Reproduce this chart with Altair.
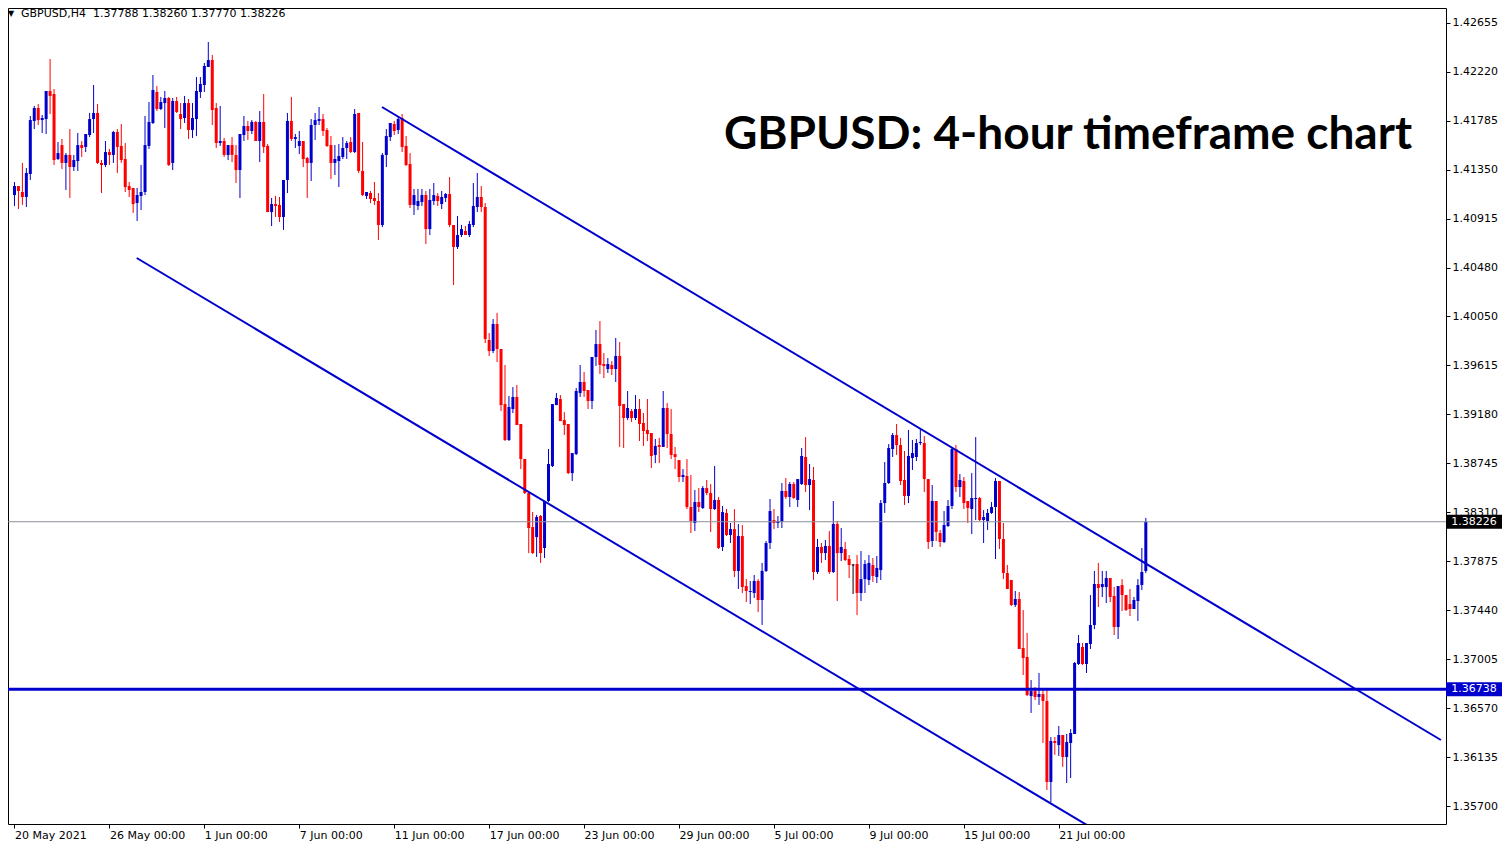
import altair as alt
import pandas as pd

# ---------------- data ----------------
opens = [
1.41127,1.41207,1.41154,1.41110,1.41314,1.41785,1.41900,1.41793,1.41802,1.42051,
1.42024,1.41447,1.41571,1.41412,1.41483,1.41376,1.41429,1.41571,1.41554,1.41660,
1.41802,1.41856,1.41412,1.41394,1.41509,1.41483,1.41687,1.41563,1.41447,1.41207,
1.41190,1.41056,1.41119,1.41154,1.41563,1.41767,1.42042,1.41891,1.41944,1.41989,
1.41412,1.41962,1.41847,1.41811,1.41944,1.41705,1.41802,1.42042,1.42104,1.42264,
1.42326,1.41900,1.41589,1.41607,1.41483,1.41571,1.41483,1.41349,1.41660,1.41740,
1.41696,1.41776,1.41607,1.41776,1.41563,1.40976,1.41047,1.41039,1.40932,1.41261,
1.41785,1.41625,1.41563,1.41607,1.41456,1.41412,1.41749,1.41785,1.41802,1.41705,
1.41571,1.41412,1.41429,1.41465,1.41545,1.41598,1.41509,1.41856,1.41341,1.41119,
1.41145,1.41101,1.41074,1.40861,1.41483,1.41642,1.41758,1.41705,1.41811,1.41563,
1.41403,1.41039,1.41030,1.41065,1.41127,1.40825,1.41074,1.41119,1.41047,1.41101,
1.41136,1.40861,1.40666,1.40772,1.40808,1.40772,1.40861,1.41021,1.41110,1.41021,
1.39840,1.39742,1.39982,1.39760,1.39271,1.38952,1.39227,1.39334,1.39094,1.38783,
1.38481,1.38179,1.38090,1.38277,1.37993,1.38410,1.38721,1.39262,1.39316,1.39129,
1.39094,1.38658,1.38827,1.39369,1.39467,1.39396,1.39298,1.39689,1.39804,1.39627,
1.39582,1.39618,1.39582,1.39698,1.39271,1.39147,1.39209,1.39147,1.39227,1.39103,
1.39041,1.39014,1.38819,1.38907,1.38890,1.39236,1.39005,1.38827,1.38774,1.38623,
1.38632,1.38357,1.38215,1.38401,1.38348,1.38526,1.38481,1.38339,1.38419,1.38002,
1.38304,1.38108,1.38161,1.37789,1.38099,1.37655,1.37602,1.37593,1.37700,1.37531,
1.37789,1.38037,1.38241,1.38215,1.38224,1.38499,1.38446,1.38561,1.38419,1.38561,
1.38801,1.38552,1.38597,1.37780,1.38002,1.37948,1.38011,1.37780,1.38206,1.37948,
1.37984,1.37895,1.37842,1.37851,1.37593,1.37717,1.37709,1.37842,1.37735,1.37797,
1.38392,1.38570,1.38872,1.38996,1.38907,1.38597,1.38455,1.38792,1.38801,1.38925,
1.38925,1.38605,1.38055,1.38410,1.38126,1.38046,1.38188,1.38366,1.38872,1.38534,
1.38588,1.38410,1.38339,1.38428,1.38437,1.38241,1.38233,1.38304,1.38357,1.38588,
1.38073,1.37771,1.37709,1.37487,1.37540,1.37105,1.37025,1.36678,1.36722,1.36670,
1.36696,1.36634,1.35915,1.36279,1.36243,1.36332,1.36137,1.36261,1.36341,1.36963,
1.37114,1.36963,1.37140,1.37309,1.37673,1.37646,1.37646,1.37726,1.37567,1.37291,
1.37664,1.37575,1.37495,1.37451,1.37522,1.37664,1.37788]

highs = [
1.41243,1.41207,1.41412,1.41367,1.41829,1.41918,1.41935,1.41838,1.42051,1.42335,
1.42069,1.41598,1.41625,1.41500,1.41713,1.41483,1.41678,1.41607,1.41669,1.41856,
1.42104,1.41935,1.41438,1.41607,1.41536,1.41696,1.41713,1.41758,1.41589,1.41243,
1.41190,1.41190,1.41394,1.41829,1.41953,1.42193,1.42095,1.41998,1.42051,1.41998,
1.41989,1.41998,1.41944,1.42007,1.41980,1.41944,1.42175,1.42175,1.42300,1.42486,
1.42371,1.41944,1.41918,1.41634,1.41571,1.41642,1.41571,1.41669,1.41829,1.41785,
1.41793,1.41785,1.41873,1.42024,1.41580,1.41101,1.41119,1.41110,1.41261,1.41856,
1.41998,1.41669,1.41696,1.41607,1.41465,1.41802,1.41856,1.41909,1.41847,1.41722,
1.41651,1.41571,1.41580,1.41642,1.41607,1.41642,1.41891,1.41856,1.41598,1.41154,
1.41163,1.41243,1.41145,1.41500,1.41713,1.41767,1.41785,1.41820,1.41847,1.41651,
1.41500,1.41181,1.41181,1.41181,1.41163,1.41181,1.41234,1.41145,1.41163,1.41145,
1.41287,1.40861,1.40941,1.40861,1.40852,1.40897,1.41234,1.41323,1.41207,1.41056,
1.39902,1.40026,1.40080,1.39760,1.39618,1.39343,1.39422,1.39440,1.39094,1.38783,
1.38481,1.38312,1.38286,1.38286,1.38410,1.38872,1.39271,1.39369,1.39351,1.39200,
1.39094,1.38836,1.39413,1.39618,1.39556,1.39396,1.39689,1.39929,1.40008,1.39724,
1.39680,1.39653,1.39858,1.39822,1.39271,1.39387,1.39227,1.39351,1.39316,1.39191,
1.39316,1.39014,1.38961,1.38970,1.39387,1.39280,1.39227,1.38890,1.38774,1.38694,
1.38783,1.38641,1.38508,1.38526,1.38543,1.38597,1.38561,1.38721,1.38446,1.38366,
1.38339,1.38215,1.38339,1.38206,1.38197,1.37717,1.37700,1.37753,1.37717,1.37860,
1.38055,1.38428,1.38339,1.38277,1.38570,1.38614,1.38579,1.38579,1.38605,1.38881,
1.38978,1.38739,1.38712,1.38073,1.38037,1.38064,1.38144,1.38410,1.38233,1.38170,
1.38046,1.37931,1.37851,1.37931,1.37966,1.37886,1.37931,1.37904,1.37922,1.38419,
1.38756,1.38916,1.39014,1.39094,1.38970,1.38854,1.39041,1.38952,1.38961,1.39049,
1.38987,1.38605,1.38552,1.38410,1.38153,1.38321,1.38419,1.38881,1.38907,1.38650,
1.38623,1.38410,1.38658,1.38978,1.38446,1.38330,1.38339,1.38401,1.38614,1.38588,
1.38215,1.37842,1.37709,1.37611,1.37602,1.37442,1.37238,1.36821,1.36758,1.36883,
1.36750,1.36750,1.36314,1.36314,1.36412,1.36332,1.36341,1.36385,1.36980,1.37220,
1.37149,1.37149,1.37575,1.37789,1.37860,1.37789,1.37789,1.37726,1.37646,1.37655,
1.37717,1.37575,1.37629,1.37558,1.37717,1.37993,1.38260]

lows = [
1.41030,1.41003,1.41039,1.41021,1.41261,1.41713,1.41749,1.41678,1.41669,1.41847,
1.41394,1.41438,1.41358,1.41172,1.41101,1.41341,1.41341,1.41465,1.41509,1.41642,
1.41678,1.41403,1.41145,1.41376,1.41394,1.41412,1.41323,1.41412,1.41154,1.41110,
1.40968,1.40897,1.40994,1.41127,1.41536,1.41758,1.41873,1.41882,1.41722,1.41385,
1.41349,1.41856,1.41713,1.41767,1.41625,1.41634,1.41651,1.41989,1.42042,1.42264,
1.41749,1.41545,1.41563,1.41465,1.41438,1.41420,1.41234,1.41101,1.41607,1.41616,
1.41669,1.41607,1.41420,1.41500,1.40976,1.40852,1.40932,1.40888,1.40817,1.41145,
1.41607,1.41545,1.41491,1.41376,1.41101,1.41252,1.41616,1.41749,1.41651,1.41554,
1.41269,1.41305,1.41198,1.41447,1.41447,1.41500,1.41500,1.41323,1.41119,1.41092,
1.41056,1.41039,1.40728,1.40843,1.41376,1.41607,1.41660,1.41669,1.41509,1.41385,
1.41012,1.40950,1.40994,1.41030,1.40692,1.40772,1.41039,1.41030,1.41003,1.41065,
1.40843,1.40328,1.40648,1.40754,1.40772,1.40754,1.40843,1.40976,1.40976,1.39813,
1.39698,1.39724,1.39644,1.39209,1.38943,1.38943,1.39191,1.39085,1.38694,1.38472,
1.37948,1.37939,1.37913,1.37860,1.37904,1.38401,1.38712,1.39262,1.39120,1.38996,
1.38650,1.38588,1.38819,1.39334,1.39334,1.39227,1.39227,1.39609,1.39538,1.39502,
1.39547,1.39529,1.39467,1.38890,1.38881,1.39129,1.39112,1.39129,1.38943,1.38899,
1.38943,1.38703,1.38747,1.38747,1.38890,1.38881,1.38783,1.38694,1.38579,1.38579,
1.38339,1.38126,1.38144,1.38312,1.38339,1.38463,1.38135,1.38330,1.37984,1.37966,
1.38099,1.38037,1.37735,1.37629,1.37593,1.37513,1.37495,1.37549,1.37424,1.37309,
1.37780,1.37984,1.38161,1.38170,1.38170,1.38428,1.38357,1.38428,1.38357,1.38552,
1.38490,1.38330,1.37709,1.37762,1.37860,1.37886,1.37762,1.37771,1.37522,1.37877,
1.37877,1.37726,1.37584,1.37398,1.37522,1.37593,1.37664,1.37691,1.37682,1.37709,
1.38304,1.38561,1.38801,1.38819,1.38552,1.38375,1.38392,1.38685,1.38765,1.38907,
1.38490,1.37984,1.38002,1.38055,1.38002,1.38037,1.38179,1.38339,1.38490,1.38446,
1.38339,1.38215,1.38117,1.38241,1.38233,1.38037,1.38153,1.38295,1.37895,1.37984,
1.37717,1.37629,1.37478,1.37469,1.37096,1.36865,1.36678,1.36528,1.36643,1.36599,
1.36261,1.35844,1.35737,1.36155,1.36146,1.36049,1.35906,1.35950,1.36341,1.36954,
1.36954,1.36883,1.37096,1.37273,1.37469,1.37558,1.37504,1.37513,1.37220,1.37185,
1.37433,1.37433,1.37389,1.37451,1.37345,1.37620,1.37770]

closes = [
1.41207,1.41163,1.41110,1.41323,1.41793,1.41900,1.41793,1.41811,1.42051,1.42007,
1.41438,1.41500,1.41412,1.41483,1.41376,1.41438,1.41571,1.41545,1.41669,1.41802,
1.41856,1.41412,1.41394,1.41509,1.41483,1.41687,1.41554,1.41438,1.41198,1.41172,
1.41047,1.41127,1.41154,1.41571,1.41776,1.42060,1.41891,1.41953,1.41989,1.41394,
1.41962,1.41864,1.41802,1.41944,1.41705,1.41811,1.42051,1.42113,1.42273,1.42326,
1.41882,1.41589,1.41607,1.41483,1.41571,1.41483,1.41349,1.41669,1.41740,1.41696,
1.41776,1.41607,1.41776,1.41554,1.40976,1.41047,1.41030,1.40932,1.41261,1.41785,
1.41625,1.41642,1.41607,1.41447,1.41412,1.41749,1.41793,1.41802,1.41696,1.41563,
1.41412,1.41447,1.41474,1.41545,1.41589,1.41509,1.41847,1.41341,1.41127,1.41154,
1.41092,1.41074,1.40861,1.41483,1.41651,1.41767,1.41696,1.41802,1.41554,1.41394,
1.41039,1.41127,1.41074,1.41127,1.40825,1.41083,1.41127,1.41074,1.41110,1.41136,
1.40861,1.40666,1.40772,1.40825,1.40772,1.40870,1.41030,1.41110,1.41021,1.39849,
1.39742,1.39982,1.39760,1.39262,1.38952,1.39245,1.39334,1.39085,1.38783,1.38481,
1.38170,1.37948,1.38268,1.37948,1.38410,1.38739,1.39271,1.39325,1.39120,1.39085,
1.38658,1.38836,1.39387,1.39467,1.39387,1.39298,1.39689,1.39804,1.39618,1.39609,
1.39627,1.39582,1.39698,1.39254,1.39147,1.39236,1.39147,1.39227,1.39094,1.39032,
1.39005,1.38810,1.38899,1.38890,1.39236,1.39005,1.38819,1.38801,1.38623,1.38641,
1.38357,1.38233,1.38401,1.38357,1.38526,1.38481,1.38339,1.38419,1.37993,1.38312,
1.38108,1.38161,1.37789,1.38099,1.37646,1.37611,1.37611,1.37700,1.37531,1.37789,
1.38037,1.38321,1.38215,1.38233,1.38499,1.38446,1.38561,1.38437,1.38605,1.38810,
1.38552,1.38605,1.37780,1.38002,1.37948,1.38011,1.37780,1.38206,1.37948,1.38002,
1.37886,1.37842,1.37842,1.37593,1.37717,1.37851,1.37860,1.37744,1.37815,1.38392,
1.38570,1.38881,1.38996,1.38907,1.38588,1.38455,1.38810,1.38836,1.38925,1.38934,
1.38605,1.38046,1.38410,1.38135,1.38046,1.38197,1.38366,1.38872,1.38534,1.38597,
1.38392,1.38348,1.38437,1.38437,1.38241,1.38268,1.38304,1.38357,1.38588,1.38073,
1.37771,1.37629,1.37487,1.37540,1.37096,1.37016,1.36687,1.36722,1.36670,1.36696,
1.36634,1.35915,1.36279,1.36261,1.36332,1.36137,1.36270,1.36350,1.36972,1.37149,
1.36963,1.37149,1.37309,1.37673,1.37638,1.37673,1.37726,1.37558,1.37291,1.37655,
1.37575,1.37442,1.37451,1.37531,1.37664,1.37780,1.38226]

date_label_bars = [0, 24, 48, 72, 96, 120, 144, 168, 192, 216, 240, 264]
date_labels = ["20 May 2021", "26 May 00:00", "1 Jun 00:00", "7 Jun 00:00",
               "11 Jun 00:00", "17 Jun 00:00", "23 Jun 00:00", "29 Jun 00:00",
               "5 Jul 00:00", "9 Jul 00:00", "15 Jul 00:00", "21 Jul 00:00"]
price_ticks = [1.35700, 1.36135, 1.36570, 1.37005, 1.37440, 1.37875, 1.38310,
               1.38745, 1.39180, 1.39615, 1.40050, 1.40480, 1.40915, 1.41350,
               1.41785, 1.42220, 1.42655]

upper_line_bars = [92.9, 360.6]
upper_line_prices = [1.41909, 1.36288]
lower_line_bars = [30.9, 271.2]
lower_line_prices = [1.40568, 1.35531]

support_level = 1.36738
bid_price = 1.38226
symbol_name = "GBPUSD,H4"
title_text = "GBPUSD: 4-hour timeframe chart"

# ---------------- chart ----------------
W, H = 1438, 816
FONT = "DejaVu Sans"
BLUE = "#0000CD"
RED = "#FF0000"

xs = alt.Scale(domain=[-0.375, 360.625], nice=False, zero=False)
ys = alt.Scale(domain=[1.35542, 1.42788], nice=False, zero=False)

df = pd.DataFrame({"i": list(range(len(opens))), "o": opens, "h": highs,
                   "l": lows, "c": closes})

label_expr = ("[" + ",".join("'%s'" % s for s in date_labels) + "][indexof(["
              + ",".join(str(b) for b in date_label_bars) + "], datum.value)]")

x_axis = alt.Axis(values=date_label_bars, labelExpr=label_expr, labelAlign="left",
                  labelBaseline="top", labelPadding=1, tickSize=4, tickColor="black",
                  domain=False, grid=False, labelFont=FONT, labelFontSize=11,
                  labelColor="black", title=None, labelOverlap=False)
y_axis = alt.Axis(orient="right", values=price_ticks, format=".5f", labelAlign="left",
                  labelBaseline="middle", labelPadding=2, tickSize=4, tickColor="black",
                  domain=False, grid=False, labelFont=FONT, labelFontSize=11,
                  labelColor="black", title=None, labelOverlap=False)

base = alt.Chart(df).transform_calculate(
    col="datum.c > datum.o ? '%s' : (datum.c < datum.o ? '%s' : '#000000')" % (BLUE, RED),
    xl="datum.i - 0.35", xr="datum.i + 0.35")

color_enc = alt.Color("col:N", scale=None)

wicks = base.mark_rule(strokeWidth=1).encode(
    x=alt.X("i:Q", scale=xs, axis=x_axis),
    y=alt.Y("l:Q", scale=ys, axis=y_axis),
    y2="h:Q",
    color=color_enc)

bodies = base.mark_bar(size=3, strokeWidth=0).encode(
    x=alt.X("i:Q", scale=xs, axis=x_axis),
    y=alt.Y("o:Q", scale=ys, axis=y_axis),
    y2="c:Q",
    color=color_enc)

dojis = base.transform_filter("datum.o == datum.c").mark_rule(strokeWidth=1).encode(
    x=alt.X("xl:Q", scale=xs, axis=x_axis),
    x2="xr:Q",
    y=alt.Y("o:Q", scale=ys, axis=y_axis),
    color=color_enc)

lines_df = pd.DataFrame({
    "id": ["u"] * len(upper_line_bars) + ["d"] * len(lower_line_bars),
    "bar": upper_line_bars + lower_line_bars,
    "p": upper_line_prices + lower_line_prices})
trend = alt.Chart(lines_df).mark_line(strokeWidth=2, color=BLUE, clip=True).encode(
    x=alt.X("bar:Q", scale=xs, axis=x_axis),
    y=alt.Y("p:Q", scale=ys, axis=y_axis),
    detail="id:N")

support = alt.Chart(pd.DataFrame({"p": [support_level]})).mark_rule(
    strokeWidth=3, color=BLUE).encode(y=alt.Y("p:Q", scale=ys, axis=y_axis))

bid = alt.Chart(pd.DataFrame({"p": [bid_price]})).mark_rule(
    strokeWidth=1, color="#8C9099").encode(y=alt.Y("p:Q", scale=ys, axis=y_axis))

BOX = "M-1,-0.25L1,-0.25L1,0.25L-1,0.25Z"
BOX_X = 1466
bid_df = pd.DataFrame({"p": [bid_price], "t": ["%.5f" % bid_price]})
sup_df = pd.DataFrame({"p": [support_level], "t": ["%.5f" % support_level]})

bid_box = alt.Chart(bid_df).mark_point(shape=BOX, filled=True, size=3136,
                                       color="black", opacity=1, strokeWidth=0).encode(
    x=alt.value(BOX_X), y=alt.Y("p:Q", scale=ys, axis=y_axis))
bid_txt = alt.Chart(bid_df).mark_text(color="white", font=FONT, fontSize=11,
                                      align="center", baseline="middle").encode(
    x=alt.value(BOX_X), y=alt.Y("p:Q", scale=ys, axis=y_axis), text="t:N")
sup_box = alt.Chart(sup_df).mark_point(shape=BOX, filled=True, size=3136,
                                       color=BLUE, opacity=1, strokeWidth=0).encode(
    x=alt.value(BOX_X), y=alt.Y("p:Q", scale=ys, axis=y_axis))
sup_txt = alt.Chart(sup_df).mark_text(color="white", font=FONT, fontSize=11,
                                      align="center", baseline="middle").encode(
    x=alt.value(BOX_X), y=alt.Y("p:Q", scale=ys, axis=y_axis), text="t:N")

header_str = "%s\u00a0\u00a0%.5f %.5f %.5f %.5f" % (symbol_name, opens[-1], highs[-1],
                                                     lows[-1], closes[-1])
header = alt.Chart(pd.DataFrame({"t": [header_str]})).mark_text(
    font=FONT, fontSize=11, align="left", baseline="middle", color="black").encode(
    x=alt.value(13), y=alt.value(6), text="t:N")
tri = alt.Chart(pd.DataFrame({"t": ["\u25BC"]})).mark_text(
    font=FONT, fontSize=8, align="left", baseline="middle", color="black").encode(
    x=alt.value(0), y=alt.value(6), text="t:N")

title = alt.Chart(pd.DataFrame({"t": [title_text]})).mark_text(
    font="Lato", fontWeight="bold", fontSize=46, align="right",
    baseline="alphabetic", color="black").encode(
    x=alt.value(1404), y=alt.value(141), text="t:N")

chart = alt.layer(
    wicks, bodies, dojis, bid, support, trend,
    bid_box, bid_txt, sup_box, sup_txt, header, tri, title
).properties(
    width=W, height=H,
    padding={"left": 0, "top": 0, "right": 56, "bottom": 18},
    autosize=alt.AutoSizeParams(type="none"),
    background="white"
).configure_view(stroke="black", strokeWidth=1)

chart.save("out.html", embed_options={"renderer": "svg", "actions": False})
